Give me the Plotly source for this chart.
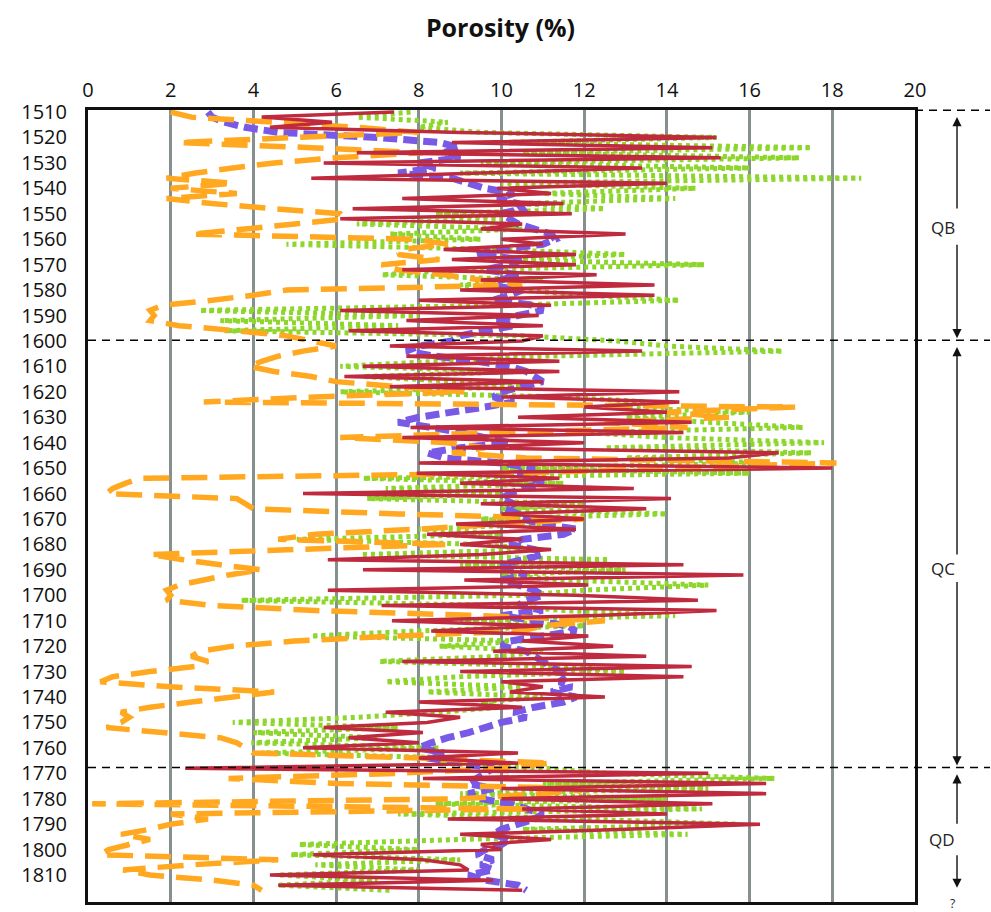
import plotly.graph_objects as go

depth = list(range(1510, 1817, 2))

red = [7.4, 4.2, 5.9, 4.4, 9.0, 15.2, 8.8, 15.1, 6.5, 15.3,
       5.7, 13.4, 9.5, 5.4, 14.0, 9.9, 11.2, 7.6, 11.5, 6.4,
       11.7, 6.1, 10.5, 9.5, 13.0, 10.0, 11.0, 8.6, 11.8, 8.8,
       11.8, 7.6, 12.3, 9.5, 13.7, 9.0, 13.7, 8.0, 11.2, 6.1,
       10.9, 7.7, 11.0, 6.3, 11.0, 10.5, 7.3, 13.4, 7.7, 11.4,
       6.65, 11.4, 6.2, 11.0, 7.3, 14.3, 10.0, 14.3, 12.0, 14.0,
       10.4, 14.6, 7.8, 14.4, 7.6, 12.0, 8.9, 16.7, 15.5, 8.0,
       18.0, 7.95, 11.4, 9.0, 13.2, 5.2, 14.1, 9.5, 13.5, 10.0,
       12.0, 8.9, 11.8, 8.2, 10.5, 9.0, 11.2, 9.5, 5.8, 14.4,
       6.65, 15.85, 9.1, 12.1, 5.8, 11.8, 14.75, 7.1, 15.2, 12.3,
       7.35, 11.0, 8.3, 12.1, 10.5, 12.7, 9.8, 13.5, 7.6, 14.6,
       9.0, 14.4, 10.0, 11.0, 10.2, 12.5, 8.0, 10.5, 7.2, 9.0,
       8.2, 5.7, 8.1, 6.3, 8.0, 5.2, 10.4, 8.0, 10.4, 2.35,
       15.0, 8.1, 16.4, 10.0, 16.4, 10.0, 15.1, 10.5, 14.0, 8.7,
       16.25, 13.0, 9.0, 11.2, 9.5, 10.0, 5.45, 8.1, 9.0, 9.2,
       4.4, 9.8, 4.6, 10.5]

green = [7.8, 6.5, 8.7, 8.0, 9.5, 15.2, 10.0, 17.5, 10.5, 17.2,
         9.5, 16.0, 9.0, 18.7, 10.0, 14.7, 11.0, 14.2, 10.5, 12.5,
         8.4, 10.0, 6.5, 10.5, 7.3, 9.5, 4.8, 9.8, 13.0, 10.0,
         14.9, 9.0, 7.1, 11.0, 9.0, 10.5, 12.0, 14.3, 10.0, 2.7,
         8.0, 3.2, 7.5, 3.3, 10.5, 12.8, 14.0, 16.8, 11.0, 8.5,
         6.1, 10.5, 6.65, 9.0, 10.5, 6.1, 11.5, 13.5, 12.5, 16.0,
         13.0, 15.0, 17.3, 12.0, 14.0, 17.8, 12.5, 17.5, 13.0, 16.5,
         10.0, 16.0, 6.65, 11.5, 7.2, 10.0, 6.75, 12.0, 10.0, 14.0,
         9.5, 11.0, 8.0, 10.0, 5.05, 9.5, 11.0, 6.6, 12.6, 9.0,
         13.0, 10.0, 11.5, 15.0, 12.0, 10.5, 3.7, 10.0, 11.5, 14.2,
         9.0, 12.0, 8.0, 5.4, 10.5, 8.5, 11.0, 10.0, 7.05, 11.5,
         13.0, 9.0, 7.2, 10.5, 8.2, 11.0, 9.5, 10.0, 8.5, 6.5,
         3.5, 7.5, 4.0, 7.0, 3.95, 8.5, 4.2, 9.0, 8.5, 11.0,
         12.5, 16.6, 11.0, 15.0, 9.0, 14.0, 8.4, 14.85, 7.5, 12.0,
         15.7, 10.5, 14.5, 9.0, 5.1, 8.0, 4.9, 9.0, 5.5, 8.0,
         4.6, 7.0, 4.6, 7.3]

purple = [2.9, 3.0, 3.3, 3.8, 4.6, 7.0, 8.5, 9.0, 8.6, 9.0,
          8.0, 8.4, 7.5, 8.8, 9.2, 9.6, 10.3, 9.9, 10.4, 10.5,
          10.0, 10.2, 10.4, 10.8, 11.2, 11.3, 11.0, 10.0, 9.4, 10.5,
          10.2, 9.6, 10.4, 10.0, 9.6, 10.5, 10.2, 9.8, 10.8, 11.0,
          10.4, 9.8, 10.3, 9.6, 9.0, 8.8, 8.0, 7.7, 8.4, 9.4,
          10.2, 10.6, 10.8, 11.0, 10.5, 10.0, 9.8, 10.3, 9.6, 8.8,
          8.0, 7.5, 8.3, 9.0, 9.6, 10.2, 9.0, 8.2, 8.6, 10.0,
          10.8, 10.4, 10.8, 11.0, 10.5, 10.2, 10.0, 10.3, 10.1, 10.4,
          10.5, 11.0, 11.8, 11.5, 10.5, 10.2, 10.8, 11.0, 10.5, 10.0,
          10.2, 10.6, 10.0, 10.4, 10.8, 11.0, 10.6, 10.4, 11.0, 10.0,
          10.8, 11.6, 11.8, 11.0, 10.2, 10.0, 10.6, 10.8, 11.0, 11.2,
          11.4, 11.6, 11.4, 11.7, 11.2, 11.8, 11.5, 10.8, 10.3, 10.6,
          10.0, 9.6, 9.2, 8.7, 8.3, 8.0, 8.6, 8.2, 9.0, 9.8,
          9.6, 9.4, 9.2, 9.8, 9.2, 9.5, 10.2, 10.6, 11.0, 10.8,
          10.4, 10.0, 9.8, 10.2, 10.0, 9.6, 9.4, 9.8, 9.5, 9.8,
          9.2, 9.6, 10.4, 10.6]

orange = [2.0, 2.5, 4.5, 6.5, 8.0, 5.0, 2.2, 5.4, 8.1, 6.0,
          4.5, 3.5, 2.6, 1.9, 3.5, 2.0, 3.6, 1.9, 3.0, 4.5,
          6.1, 6.2, 5.0, 3.8, 2.5, 7.9, 8.7, 7.6, 7.5, 8.5,
          7.1, 7.5, 8.6, 9.5, 10.5, 4.8, 4.0, 3.0, 1.8, 1.5,
          1.6, 1.5, 2.2, 3.6, 4.8, 5.4, 6.0, 5.2, 4.6, 4.2,
          3.9, 4.5, 5.4, 6.0, 7.5, 9.1, 5.5, 2.8, 17.1, 14.0,
          15.5, 12.5, 14.5, 10.0, 6.1, 8.7, 9.6, 8.8, 10.6, 18.1,
          14.0, 10.5, 1.25, 0.9, 0.6, 0.45, 3.6, 3.8, 4.0, 7.5,
          12.0, 10.0, 8.0, 5.5, 4.6, 8.7, 5.0, 1.5, 2.3, 3.2,
          4.2, 3.4, 2.8, 2.2, 1.9, 2.0, 1.9, 3.0, 5.5, 9.5,
          12.5, 11.0, 10.5, 7.5, 5.0, 3.5, 2.7, 2.5, 2.9, 2.6,
          1.5, 0.6, 0.3, 2.0, 4.5, 3.5, 2.5, 1.5, 0.8, 1.0,
          0.8, 0.45, 1.8, 3.2, 3.6, 3.8, 4.0, 8.0, 11.2, 10.0,
          7.5, 3.4, 6.0, 12.3, 11.0, 9.0, 0.1, 10.7, 2.0, 2.9,
          2.0, 1.5, 0.8, 1.5, 1.0, 0.5, 0.3, 4.6, 2.5, 0.85,
          1.5, 3.0, 4.0, 4.2]

x_ticks = list(range(0, 21, 2))
y_ticks = list(range(1510, 1811, 10))
zone_bounds = [1599.7, 1767.7]
zone_labels = ["QB", "QC", "QD"]

Y_TOP, Y_BOT = 1509.2, 1820.6

fig = go.Figure()
fig.add_trace(go.Scatter(x=green, y=depth, mode="lines",
                         line=dict(color="#8DD62C", width=5, dash="4px,4px", simplify=False)))
fig.add_trace(go.Scatter(x=purple, y=depth, mode="lines",
                         line=dict(color="#785AE6", width=7, dash="14px,6px", simplify=False)))
fig.add_trace(go.Scatter(x=orange, y=depth, mode="lines",
                         line=dict(color="#FFA820", width=5.5, dash="26px,12px", simplify=False)))
fig.add_trace(go.Scatter(x=red, y=depth, mode="lines",
                         line=dict(color="#BF2A3E", width=3.5, simplify=False)))


def py(d):
    return (Y_BOT - d) / (Y_BOT - Y_TOP)


XR = 1.0907
shapes = [dict(type="line", xref="paper", yref="paper", x0=1.0, x1=XR,
               y0=py(1509.3), y1=py(1509.3),
               line=dict(color="black", width=1.5, dash="8px,6px"))]
for zb in zone_bounds:
    shapes.append(dict(type="line", xref="paper", yref="paper", x0=0, x1=XR,
                       y0=py(zb), y1=py(zb),
                       line=dict(color="black", width=1.5, dash="8px,6px")))

AX = 1.0508
ann = []
arrows = [(1512.0, 93), (1598.9, -95), (1602.4, 209), (1766.9, -185),
          (1770.4, 51), (1815.0, -34)]
for yh, ay in arrows:
    ann.append(dict(xref="paper", yref="y", x=AX, y=yh, ax=0, ay=ay, text="",
                    showarrow=True, arrowhead=2, arrowsize=1.3, arrowwidth=1.4,
                    arrowcolor="#111", standoff=0))
for lbl, yy in zip(zone_labels, [1555.4, 1689.4, 1795.9]):
    ann.append(dict(xref="paper", yref="y", x=AX, y=yy, text=lbl, showarrow=False,
                    font=dict(family="Open Sans", size=17, color="#222")))
ann.append(dict(xref="paper", yref="paper", x=AX, y=0.0, yanchor="middle", yshift=-1,
                text="?", showarrow=False,
                font=dict(family="Open Sans", size=12, color="#222")))

fig.update_layout(
    width=991, height=912,
    margin=dict(l=88, r=76, t=110, b=7),
    paper_bgcolor="white", plot_bgcolor="white",
    showlegend=False,
    title=dict(text="<b>Porosity (%)</b>", x=0.505, xanchor="center",
               y=1 - 28 / 912, yanchor="middle", yref="container",
               font=dict(family="Open Sans", size=25, color="#111")),
    xaxis=dict(side="top", range=[0, 20], tickvals=x_ticks, ticktext=[str(v) for v in x_ticks],
               showgrid=True, gridcolor="#86908F", gridwidth=2.5, zeroline=False,
               showline=True, mirror=True, linecolor="#111", linewidth=3,
               ticks="", ticklabelstandoff=2,
               tickfont=dict(family="Open Sans", size=20, color="#111")),
    yaxis=dict(range=[Y_BOT, Y_TOP], tickvals=y_ticks, ticktext=[str(v) for v in y_ticks],
               showgrid=False, zeroline=False,
               showline=True, mirror=True, linecolor="#111", linewidth=3,
               ticks="", ticklabelstandoff=14,
               tickfont=dict(family="Open Sans", size=20, color="#111")),
    shapes=shapes, annotations=ann,
)

fig.write_html("out.html")
